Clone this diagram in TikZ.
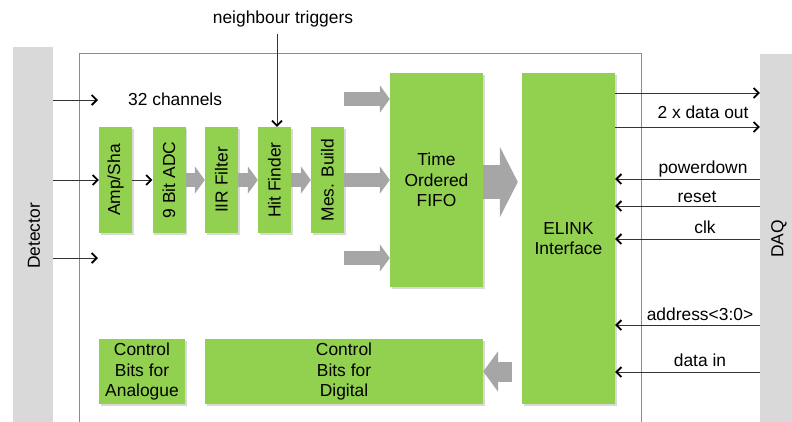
\documentclass[tikz,border=0pt]{standalone}
\usepackage{fontspec}
\setmainfont{Liberation Sans}
\usetikzlibrary{arrows.meta,shadows}
\definecolor{chipgreen}{HTML}{92D050}
\definecolor{flowgray}{HTML}{A6A6A6}
\definecolor{bargray}{HTML}{D9D9D9}
\definecolor{framegray}{HTML}{8C8C8C}
\begin{document}
\begin{tikzpicture}[x=1pt,y=-1pt,font=\fontsize{17.4}{20.5}\selectfont,block/.style={fill=chipgreen,inner sep=0pt,align=center,drop shadow={shadow xshift=1.5pt,shadow yshift=-1.5pt,opacity=0.3}},stage/.style={block,minimum width=33pt,minimum height=106pt},vtext/.style={rotate=90,inner sep=0pt},side/.style={fill=bargray,inner sep=0pt},signal/.style={line width=0.9pt,black!80,-{Straight Barb[length=5pt,width=10pt,line width=1.8pt,black]}},flow/.style={flowgray,line width=14pt,-{Triangle[length=10pt,width=27pt]}},bigflow/.style={flowgray,line width=34pt,-{Triangle[length=18pt,width=70pt]}},backflow/.style={flowgray,line width=20pt,-{Triangle[length=15pt,width=40pt]}},lbl/.style={inner sep=0pt,anchor=base}]
\useasboundingbox (0,0) rectangle (792,421);
% side bars and chip frame
\node[side,minimum width=40pt,minimum height=392pt] (det) at (33,243) {};
\node[vtext] (dettext) at (34,236) {Detector};
\node[side,minimum width=40pt,minimum height=386pt] (daq) at (780,247) {};
\node[vtext] (daqtext) at (779,239) {DAQ};
\draw[framegray,line width=1pt] (79,430) -- (79,53) -- (641,53) -- (641,430);
% processing chain
\node[stage,label={[vtext]center:Amp/Sha}] (amp) at (115.5,180) {};
\node[stage,label={[vtext]center:9 Bit ADC}] (adc) at (169,180) {};
\node[stage,label={[vtext]center:IIR Filter}] (iir) at (221.5,180) {};
\node[stage,label={[vtext]center:Hit Finder}] (hit) at (274.5,180) {};
\node[stage,label={[vtext]center:Mes. Build}] (mes) at (327.5,180) {};
\node[block,minimum width=93pt,minimum height=214pt] (fifo) at (436.5,180) {Time\\Ordered\\FIFO};
\node[block,minimum width=93pt,minimum height=331pt] (elink) at (568.5,238.5) {ELINK\\Interface};
\node[block,minimum width=86pt,minimum height=65pt] (cana) at (142,371.5) {Control\\Bits for\\Analogue};
\node[block,minimum width=278pt,minimum height=65pt] (cdig) at (344,371.5) {Control\\Bits for\\Digital};
% detector inputs
\coordinate (ch1) at (98,100);
\coordinate (ch3) at (98,258);
\draw[signal] (ch1 -| det.east) -- (ch1);
\draw[signal] (amp.west -| det.east) -- (amp.west);
\draw[signal] (ch3 -| det.east) -- (ch3);
\node[lbl,anchor=base west] (chan) at (128,105) {32 channels};
\draw[signal] (amp.east) -- (adc.west);
\draw[flow] (adc.east) -- (iir.west);
\draw[flow] (iir.east) -- (hit.west);
\draw[flow] (hit.east) -- (mes.west);
\draw[flow] (mes.east) -- (fifo.west |- mes.east);
\coordinate (f1) at (344,99);
\coordinate (f3) at (344,258);
\draw[flow] (f1) -- (f1 -| fifo.west);
\draw[flow] (f3) -- (f3 -| fifo.west);
\coordinate (bf) at (0,182);
\draw[bigflow,shorten >=4pt] (bf -| fifo.east) -- (bf -| elink.west);
\draw[backflow,shorten <=10pt] (elink.west |- cdig.east) -- (cdig.east);
% neighbour triggers
\node[lbl] (ntrig) at (283,23) {neighbour triggers};
\coordinate (ntop) at (277,34);
\draw[signal] (ntop) -- (ntop |- hit.north);
% DAQ side
\foreach \y/\n in {93/out1,127/out2}{
  \coordinate (\n) at (0,\y);
  \draw[signal] (\n -| elink.east) -- (\n -| daq.west);
}
\foreach \y/\n in {179/pd,206/rst,239/clk,325/adr,372/din}{
  \coordinate (\n) at (0,\y);
  \draw[signal] (\n -| daq.west) -- (\n -| elink.east);
}
\foreach \x/\y/\n/\t in {703/118/lout/2 x data out,703/173/lpd/powerdown,697/202/lrst/reset,705/233/lclk/clk,700/320/ladr/address<3:0>,700/366/ldin/data in}
  \node[lbl] (\n) at (\x,\y) {\t};
\end{tikzpicture}
\end{document}
